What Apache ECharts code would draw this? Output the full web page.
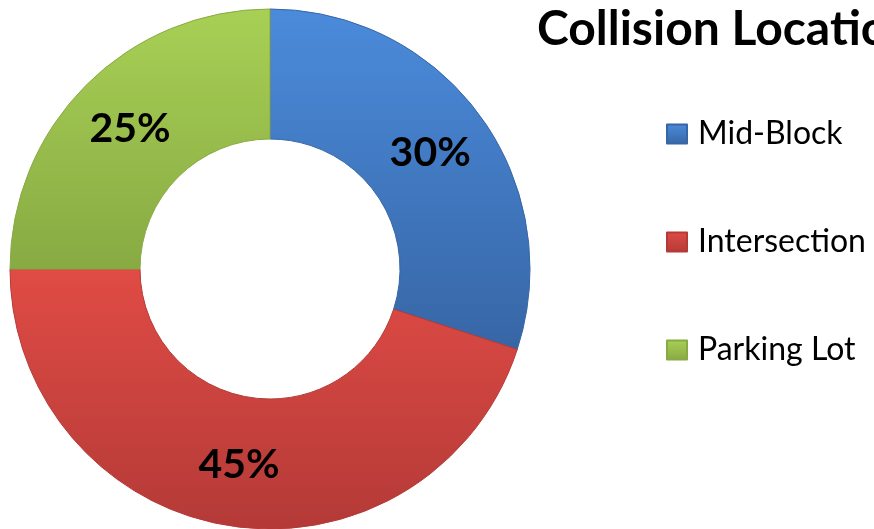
<!DOCTYPE html>
<html>
<head>
<meta charset="utf-8">
<script src="https://cdn.jsdelivr.net/npm/echarts@6/dist/echarts.min.js"></script>
<style>
html,body{margin:0;padding:0;background:#fff;}
#chart{width:874px;height:529px;}
</style>
</head>
<body>
<div id="chart"></div>
<script>
var titleText = 'Collision Locations';
var categories = ['Mid-Block', 'Intersection', 'Parking Lot'];
var values = [30, 45, 25];
var colorsTop = ['#4b8bdb', '#e04b45', '#a8d055'];
var colorsBottom = ['#3766a6', '#b43a37', '#88aa43'];

var chart = echarts.init(document.getElementById('chart'), null, {renderer: 'canvas'});
var FONT = 'Lato, "Open Sans", sans-serif';

var data = categories.map(function (c, i) {
  return {
    name: c,
    value: values[i],
    itemStyle: {
      color: new echarts.graphic.LinearGradient(0, 0, 0, 1, [
        {offset: 0, color: colorsTop[i]},
        {offset: 1, color: colorsBottom[i]}
      ]),
      borderColor: colorsBottom[i],
      borderWidth: 1
    }
  };
});

chart.setOption({
  animation: false,
  backgroundColor: '#ffffff',
  title: {
    text: titleText,
    left: 537,
    top: 6,
    padding: 0,
    textStyle: {fontFamily: FONT, fontWeight: 'bold', fontSize: 48, color: '#000'}
  },
  legend: {
    orient: 'vertical',
    left: 666,
    top: 118,
    padding: 0,
    itemWidth: 20,
    itemHeight: 19,
    itemGap: 76,
    icon: 'rect',
    data: categories,
    textStyle: {fontFamily: FONT, fontSize: 32, color: '#000', lineHeight: 32, padding: [0, 0, 0, 6]}
  },
  series: [{
    type: 'pie',
    center: [270, 269],
    radius: [130, 260],
    startAngle: 90,
    clockwise: true,
    avoidLabelOverlap: false,
    label: {
      show: true,
      position: 'inside',
      formatter: function (p) { return p.value + '%'; },
      fontFamily: FONT,
      fontWeight: 'bold',
      fontSize: 41,
      color: '#000'
    },
    labelLine: {show: false},
    emphasis: {disabled: true},
    data: data
  }]
});
</script>
</body>
</html>
